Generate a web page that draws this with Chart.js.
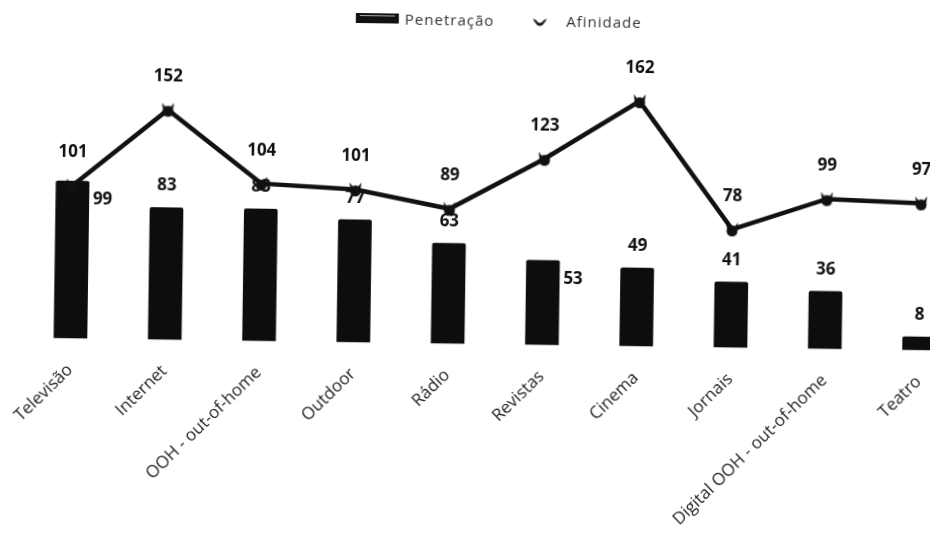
<!DOCTYPE html>
<html>
<head>
<meta charset="utf-8">
<script src="https://cdn.jsdelivr.net/npm/chart.js@4.4.1/dist/chart.umd.min.js"></script>
<style>
  html, body { margin: 0; padding: 0; background: #fff; overflow: hidden; width: 930px; height: 535px; }
  /* the scanned original sits slightly tilted */
  #wrap { position: relative; width: 998px; height: 532px; transform-origin: 0 0; transform: rotate(0.8deg); }
</style>
</head>
<body>
<div id="wrap"><canvas id="mediaChart"></canvas></div>
<script>
const categories = ['Televisão', 'Internet', 'OOH - out-of-home', 'Outdoor', 'Rádio', 'Revistas', 'Cinema', 'Jornais', 'Digital OOH - out-of-home', 'Teatro'];
const penetracao = [99, 83, 83, 77, 63, 53, 49, 41, 36, 8];
const afinidade = [101, 152, 104, 101, 89, 123, 162, 78, 99, 97];
const sideLabelIdx = [0, 5]; // bar values that sit beside the bar instead of above

// "cup" marker for the legend
function makeCup(w, h) {
    const c = document.createElement('canvas');
    c.width = w; c.height = h;
    const g = c.getContext('2d');
    g.fillStyle = '#111';
    g.beginPath();
    g.moveTo(0.5, 1);
    g.quadraticCurveTo(w / 2, h * 1.45, w - 0.5, 1);
    g.lineTo(w - 3.5, 2.5);
    g.quadraticCurveTo(w / 2, h * 0.75, 3.5, 2.5);
    g.closePath();
    g.fill();
    return c;
}
// blob with two little horns, like the scanned points
function makeBlob() {
    const c = document.createElement('canvas');
    c.width = 16; c.height = 16;
    const g = c.getContext('2d');
    g.fillStyle = '#111';
    g.beginPath();
    g.arc(8, 9.5, 5.5, 0, Math.PI * 2);
    g.fill();
    g.beginPath();
    g.moveTo(2, 1); g.lineTo(6, 6); g.lineTo(3, 8); g.closePath();
    g.moveTo(14, 1); g.lineTo(10, 6); g.lineTo(13, 8); g.closePath();
    g.fill();
    return c;
}
const legendCup = makeCup(15, 11);
const pointBlob = makeBlob();

const valueLabels = {
    id: 'valueLabels',
    afterDatasetDraw(chart, args) {
        const ctx = chart.ctx;
        ctx.save();
        ctx.font = 'bold 17px "Open Sans"';
        ctx.fillStyle = '#111';
        ctx.textBaseline = 'middle';
        if (args.index === 0) {
            args.meta.data.forEach((bar, i) => {
                if (sideLabelIdx.includes(i)) {
                    ctx.textAlign = 'left';
                    ctx.fillText(penetracao[i], bar.x + bar.width / 2 + 4, bar.y + 18);
                } else {
                    ctx.textAlign = 'center';
                    ctx.fillText(penetracao[i], bar.x, bar.y - 22);
                }
            });
        } else {
            ctx.textAlign = 'center';
            args.meta.data.forEach((pt, i) => ctx.fillText(afinidade[i], pt.x, pt.y - 33));
        }
        ctx.restore();
    }
};

const topLegend = {
    id: 'topLegend',
    afterDraw(chart) {
        const ctx = chart.ctx;
        ctx.save();
        ctx.font = '15px "Open Sans"';
        ctx.letterSpacing = '1px';
        ctx.textBaseline = 'middle';
        const t1 = chart.data.datasets[0].label, t2 = chart.data.datasets[1].label;
        const w1 = ctx.measureText(t1).width, w2 = ctx.measureText(t2).width;
        const total = 43 + 6 + w1 + 38 + 15 + 19 + w2;
        let x = chart.width / 2 - total / 2;
        const y = 14;
        ctx.fillStyle = '#111';
        ctx.fillRect(x, y - 6, 43, 10);
        ctx.fillStyle = '#aaa';
        ctx.fillRect(x + 4, y - 4, 35, 1);
        x += 49;
        ctx.fillStyle = '#333';
        ctx.fillText(t1, x, y + 1);
        x += w1 + 38;
        ctx.drawImage(legendCup, x, y - 4);
        x += 15 + 19;
        ctx.fillText(t2, x, y + 1);
        ctx.restore();
    }
};

new Chart(document.getElementById('mediaChart').getContext('2d'), {
    data: {
        labels: categories,
        datasets: [
            {
                type: 'bar',
                label: 'Penetração',
                data: penetracao,
                backgroundColor: '#0d0d0d',
                barThickness: 33,
                borderRadius: 2,
                yAxisID: 'y',
                order: 2
            },
            {
                type: 'line',
                label: 'Afinidade',
                data: afinidade,
                borderColor: '#111',
                borderWidth: 4.5,
                tension: 0,
                pointStyle: pointBlob,
                pointRadius: 8,
                yAxisID: 'y2',
                order: 1
            }
        ]
    },
    options: {
        responsive: true,
        maintainAspectRatio: false,
        animation: false,
        layout: { padding: { top: 50, left: 28, right: 27, bottom: 0 } },
        plugins: { legend: { display: false }, tooltip: { enabled: false } },
        scales: {
            x: {
                grid: { display: false },
                border: { display: false },
                ticks: {
                    color: '#222',
                    font: { family: 'Open Sans', size: 17 },
                    maxRotation: 45,
                    minRotation: 45,
                    autoSkip: false,
                    padding: 12
                }
            },
            y: { display: false, min: -1.4, max: 181 },
            y2: { display: false, min: -1.4, max: 190 }
        }
    },
    plugins: [valueLabels, topLegend]
});
</script>
</body>
</html>
